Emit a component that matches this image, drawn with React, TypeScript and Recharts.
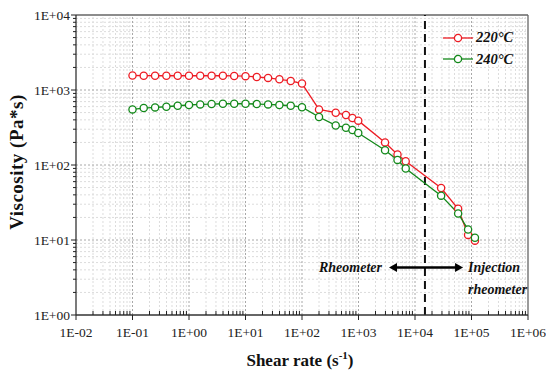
import { LineChart, Line, XAxis, YAxis, ReferenceLine, ReferenceDot, Legend } from "recharts";

// shear rate (1/s) and viscosity (Pa*s)
const shearRate = [0.1, 0.158, 0.251, 0.398, 0.631, 1, 1.58, 2.51, 3.98, 6.31, 10, 15.8, 25.1, 39.8, 63.1, 100,
  200, 395, 600, 780, 990, 2950, 4900, 6850, 29000, 58000, 87000, 115000];
const visc220 = [1560, 1550, 1550, 1550, 1550, 1550, 1550, 1550, 1550, 1540, 1530, 1490, 1450, 1390, 1320, 1220,
  550, 498, 464, 423, 390, 200, 138, 112, 49.4, 26.1, 11.7, 9.8];
const visc240 = [551, 575, 586, 598, 617, 631, 643, 650, 656, 656, 656, 650, 643, 631, 617, 590,
  437, 337, 314, 293, 267, 157, 117, 90, 39, 22.6, 13.8, 10.7];

const xMajor = [1e-2, 1e-1, 1, 10, 100, 1e3, 1e4, 1e5, 1e6];
const xLabels = ["1E-02", "1E-01", "1E+00", "1E+01", "1E+02", "1E+03", "1E+04", "1E+05", "1E+06"];
const yMajor = [1, 10, 100, 1e3, 1e4];
const yLabels = ["1E+00", "1E+01", "1E+02", "1E+03", "1E+04"];
const boundaryRate = 15000; // rheometer / injection rheometer split

const RED = "#ED1C24";
const GREEN = "#13891A";
const FONT = "'Liberation Serif', 'Times New Roman', serif";

function minorsOf(majors: number[]) {
  const out: number[] = [];
  for (let i = 0; i < majors.length - 1; i++) for (let m = 2; m <= 9; m++) out.push(majors[i] * m);
  return out;
}
const xMinor = minorsOf(xMajor);
const yMinor = minorsOf(yMajor);

const data220 = shearRate.map((x, i) => ({ x, v: visc220[i] }));
const data240 = shearRate.map((x, i) => ({ x, v: visc240[i] }));

function XTick(p: any) {
  const v = p.payload.value;
  const i = xMajor.indexOf(v);
  if (i < 0) return <line x1={p.x} x2={p.x} y1={p.y} y2={p.y - 4} stroke="#222" />;
  return (
    <g>
      <line x1={p.x} x2={p.x} y1={p.y} y2={p.y + 5} stroke="#222" />
      <text x={p.x} y={p.y + 22} textAnchor="middle" fontFamily={FONT} fontSize={13.5} fill="#222">{xLabels[i]}</text>
    </g>
  );
}

function YTick(p: any) {
  const v = p.payload.value;
  const i = yMajor.indexOf(v);
  if (i < 0) return <line x1={p.x} x2={p.x - 3} y1={p.y} y2={p.y} stroke="#222" />;
  return (
    <g>
      <line x1={p.x} x2={p.x - 5} y1={p.y} y2={p.y} stroke="#222" />
      <text x={p.x - 6} y={p.y} dy="0.35em" textAnchor="end" fontFamily={FONT} fontSize={13.5} fill="#222">{yLabels[i]}</text>
    </g>
  );
}

function Arrow(p: any) {
  const { x1, y1, x2, y2 } = p;
  const h = 8, w = 4.5;
  return (
    <g>
      <line x1={x1 + h - 1} x2={x2 - h + 1} y1={y1} y2={y2} stroke="#000" strokeWidth={2.6} />
      <polygon points={`${x1},${y1} ${x1 + h},${y1 - w} ${x1 + h},${y1 + w}`} fill="#000" />
      <polygon points={`${x2},${y2} ${x2 - h},${y2 - w} ${x2 - h},${y2 + w}`} fill="#000" />
    </g>
  );
}

function LegendBox(props: any) {
  const items = (props.payload || []).map((e: any) => ({ name: e.value, color: e.color }));
  return (
    <div style={{ fontFamily: FONT, fontStyle: "italic", fontWeight: "bold", fontSize: 14.5, color: "#111" }}>
      {items.map((it: any) => (
        <div key={it.name} style={{ display: "flex", alignItems: "center", height: 21.6 }}>
          <svg width={33} height={12} style={{ display: "block" }}>
            <line x1={0} x2={30} y1={6} y2={6} stroke={it.color} strokeWidth={1.3} />
            <circle cx={15} cy={6} r={3.6} fill="#fff" stroke={it.color} strokeWidth={1.3} />
          </svg>
          <span>{it.name}</span>
        </div>
      ))}
    </div>
  );
}

export default function App() {
  return (
    <div style={{ position: "absolute", left: 0, top: 0, width: 546, height: 376, background: "#fff" }}>
      <LineChart width={546} height={376} margin={{ top: 15, right: 18, left: 0, bottom: 0 }}>
        <XAxis dataKey="x" type="number" scale="log" domain={[1e-2, 1e6]} allowDataOverflow
          ticks={[...xMajor, ...xMinor].sort((a, b) => a - b)} interval={0}
          tickSize={0} tickMargin={0} tick={<XTick />} height={61}
          axisLine={{ stroke: "#333", strokeWidth: 1.3 }} />
        <YAxis type="number" scale="log" domain={[1, 1e4]} allowDataOverflow
          ticks={[...yMajor, ...yMinor].sort((a, b) => a - b)} interval={0}
          tickSize={0} tickMargin={0} tick={<YTick />} width={76}
          axisLine={{ stroke: "#333", strokeWidth: 1.3 }} />

        {xMinor.map((v) => <ReferenceLine key={"xm" + v} x={v} stroke="#dcdcdc" strokeDasharray="2 2" />)}
        {yMinor.map((v) => <ReferenceLine key={"ym" + v} y={v} stroke="#dcdcdc" strokeDasharray="2 2" />)}
        {xMajor.slice(1, -1).map((v) => <ReferenceLine key={"xM" + v} x={v} stroke="#a8a8a8" strokeDasharray="2 2" />)}
        {yMajor.slice(1, -1).map((v) => <ReferenceLine key={"yM" + v} y={v} stroke="#a8a8a8" strokeDasharray="2 2" />)}
        <ReferenceLine y={1e4} stroke="#666" strokeWidth={1.3} />
        <ReferenceLine x={1e6} stroke="#666" strokeWidth={1.3} />

        <ReferenceLine x={boundaryRate} stroke="#111" strokeWidth={2} strokeDasharray="8 5" />
        <ReferenceLine segment={[{ x: 3470, y: 4.3 }, { x: 70900, y: 4.3 }]} shape={(p: any) => <Arrow {...p} />} />
        <ReferenceDot x={2600} y={4.3} r={0} fill="none" stroke="none"
          label={(p: any) => (
            <text x={p.viewBox.x} y={p.viewBox.y} dy="0.35em" textAnchor="end" fontFamily={FONT}
              fontStyle="italic" fontWeight="bold" fontSize={14} fill="#111">Rheometer</text>
          )} />
        <ReferenceDot x={86700} y={4.3} r={0} fill="none" stroke="none"
          label={(p: any) => (
            <text x={p.viewBox.x} y={p.viewBox.y} dy="0.35em" textAnchor="start" fontFamily={FONT}
              fontStyle="italic" fontWeight="bold" fontSize={14} fill="#111">
              <tspan x={p.viewBox.x}>Injection</tspan>
              <tspan x={p.viewBox.x} dy={21.6}>rheometer</tspan>
            </text>
          )} />

        <Line data={data220} dataKey="v" name="220°C" stroke={RED} strokeWidth={1.3}
          dot={{ r: 3.6, fill: "#fff", stroke: RED, strokeWidth: 1.3 }} isAnimationActive={false} />
        <Line data={data240} dataKey="v" name="240°C" stroke={GREEN} strokeWidth={1.3}
          dot={{ r: 3.6, fill: "#fff", stroke: GREEN, strokeWidth: 1.3 }} isAnimationActive={false} />

        <Legend layout="horizontal" verticalAlign="middle" align="center" content={<LegendBox />}
          wrapperStyle={{ left: 443, top: 27, width: "auto" }} />
      </LineChart>
      <svg width={546} height={376} style={{ position: "absolute", left: 0, top: 0, pointerEvents: "none" }}>
        <text x={23} y={162} transform="rotate(-90, 23, 162)" textAnchor="middle" fontFamily={FONT}
          fontWeight="bold" fontSize={19} letterSpacing={0.5} fill="#111">Viscosity (Pa*s)</text>
        <text x={300} y={366} textAnchor="middle" fontFamily={FONT} fontWeight="bold" fontSize={17} fill="#111">
          Shear rate (s<tspan fontSize={11} dy={-7}>-1</tspan><tspan dy={7}>)</tspan>
        </text>
      </svg>
    </div>
  );
}
